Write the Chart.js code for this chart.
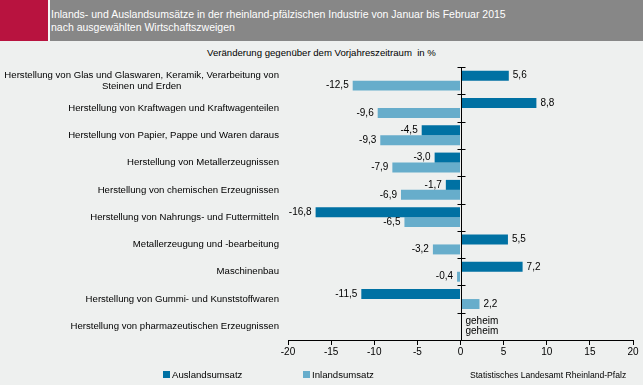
<!DOCTYPE html>
<html>
<head>
<meta charset="utf-8">
<script src="https://cdn.jsdelivr.net/npm/chart.js@4.4.1/dist/chart.umd.min.js"></script>
<style>
  html, body { margin:0; padding:0; background:#eef0ef; }
  #wrap { position:relative; width:643px; height:385px; overflow:hidden; background:#eef0ef; font-family:"Liberation Sans", Arial, sans-serif; }
  #hdrBg { position:absolute; left:0; top:0; width:643px; height:41px; background:#f6f6f6; }
  #hdrRed { position:absolute; left:0; top:0; width:48px; height:41px; background:#b8133f; }
  #hdrGray { position:absolute; left:50px; top:0; width:593px; height:41px; background:#878787; }
  #title { position:absolute; left:51px; top:8px; color:#fff; font-size:10.5px; line-height:12.5px; white-space:nowrap; }
  #subtitle { position:absolute; left:0; width:643px; top:47px; text-align:center; font-size:9.6px; color:#000; white-space:pre; }
  .leg { position:absolute; top:369px; font-size:9.6px; color:#000; white-space:nowrap; line-height:12px; }
  .sw { display:inline-block; width:7px; height:7px; margin-right:2px; vertical-align:0px; }
  #source { position:absolute; left:470px; top:370px; font-size:8.6px; color:#000; white-space:nowrap; }
  canvas { position:absolute; left:0; top:0; }
</style>
</head>
<body>
<div id="wrap">
  <div id="hdrBg"></div>
  <div id="hdrRed"></div>
  <div id="hdrGray"></div>
  <div id="title">Inlands- und Auslandsumsätze in der rheinland-pfälzischen Industrie von Januar bis Februar 2015<br>nach ausgewählten Wirtschaftszweigen</div>
  <div id="subtitle">Veränderung gegenüber dem Vorjahreszeitraum  in %</div>
  <canvas id="c" width="643" height="385"></canvas>
  <div class="leg" style="left:163px;"><span class="sw" style="background:#0071a3"></span>Auslandsumsatz</div>
  <div class="leg" style="left:303px;"><span class="sw" style="background:#67adcb"></span>Inlandsumsatz</div>
  <div id="source">Statistisches Landesamt Rheinland-Pfalz</div>
</div>
<script>
const categories = [
  ["Herstellung von Glas und Glaswaren, Keramik, Verarbeitung von", "Steinen und Erden"],
  "Herstellung von Kraftwagen und Kraftwagenteilen",
  "Herstellung von Papier, Pappe und Waren daraus",
  "Herstellung von Metallerzeugnissen",
  "Herstellung von chemischen Erzeugnissen",
  "Herstellung von Nahrungs- und Futtermitteln",
  "Metallerzeugung und -bearbeitung",
  "Maschinenbau",
  "Herstellung von Gummi- und Kunststoffwaren",
  "Herstellung von pharmazeutischen Erzeugnissen"
];
const auslandsumsatz = [5.6, 8.8, -4.5, -3.0, -1.7, -16.8, 5.5, 7.2, -11.5, null];
const inlandsumsatz = [-12.5, -9.6, -9.3, -7.9, -6.9, -6.5, -3.2, -0.4, 2.2, null];
const seriesNames = ["Auslandsumsatz", "Inlandsumsatz"];
const missingLabel = "geheim";
const xTicks = [-20, -15, -10, -5, 0, 5, 10, 15, 20];

const FONT = '"Liberation Sans", Arial, sans-serif';
const fmt = v => v.toFixed(1).replace('.', ',');

const overlay = {
  id: 'overlay',
  afterDatasetsDraw(chart) {
    const ctx = chart.ctx;
    const xs = chart.scales.x, ys = chart.scales.y;
    const ca = chart.chartArea;
    const x0 = Math.round(xs.getPixelForValue(0)) + 0.5;
    ctx.save();
    ctx.strokeStyle = '#000';
    ctx.lineWidth = 1;
    ctx.beginPath();
    ctx.moveTo(x0, ca.top);
    ctx.lineTo(x0, ca.bottom);
    ctx.stroke();
    for (let i = 0; i < categories.length; i++) {
      const yb = Math.round(ys.getPixelForValue(i - 0.5)) + 0.5;
      ctx.beginPath();
      ctx.moveTo(x0 - 4, yb);
      ctx.lineTo(x0 + 4, yb);
      ctx.stroke();
    }
    ctx.fillStyle = '#000';
    ctx.font = '10px ' + FONT;
    ctx.textBaseline = 'middle';
    chart.data.datasets.forEach((ds, di) => {
      const meta = chart.getDatasetMeta(di);
      meta.data.forEach((el, i) => {
        const v = ds.data[i];
        if (v === null || v === undefined) {
          const yy = ys.getPixelForValue(i) + (di === 0 ? -5 : 5);
          ctx.textAlign = 'left';
          ctx.fillText(missingLabel, x0 + 4, yy);
          return;
        }
        if (v >= 0) {
          ctx.textAlign = 'left';
          ctx.fillText(fmt(v), el.x + 4, el.y);
        } else {
          ctx.textAlign = 'right';
          ctx.fillText(fmt(v), el.x - 4, el.y);
        }
      });
    });
    ctx.font = '9.6px ' + FONT;
    const rx = 279;
    categories.forEach((lab, i) => {
      const yc = ys.getPixelForValue(i);
      if (Array.isArray(lab)) {
        const w = ctx.measureText(lab[0]).width;
        const cx = rx - w / 2;
        const n = lab.length;
        lab.forEach((ln, k) => {
          ctx.textAlign = 'center';
          ctx.fillText(ln, cx, yc + (k - (n - 1) / 2) * 11);
        });
      } else {
        ctx.textAlign = 'right';
        ctx.fillText(lab, rx, yc);
      }
    });
    ctx.restore();
  }
};

new Chart(document.getElementById('c'), {
  type: 'bar',
  data: {
    labels: categories,
    datasets: [
      { label: seriesNames[0], data: auslandsumsatz, backgroundColor: '#0071a3', borderWidth: 0 },
      { label: seriesNames[1], data: inlandsumsatz, backgroundColor: '#67adcb', borderWidth: 0 }
    ]
  },
  options: {
    indexAxis: 'y',
    responsive: false,
    animation: false,
    devicePixelRatio: 1,
    layout: { padding: { left: 288, right: 10, top: 67, bottom: 25 } },
    plugins: { legend: { display: false }, tooltip: { enabled: false }, title: { display: false } },
    datasets: { bar: { categoryPercentage: 0.73, barPercentage: 1 } },
    scales: {
      x: {
        type: 'linear',
        min: -20, max: 20,
        afterBuildTicks: s => { s.ticks = xTicks.map(v => ({ value: v })); },
        afterFit: s => { s.height = 20; },
        grid: { display: true, drawOnChartArea: false, drawTicks: true, tickLength: 5, color: '#000' },
        border: { display: true, color: '#000', width: 1 },
        ticks: { color: '#000', font: { family: FONT, size: 10 }, padding: 1, callback: v => String(v) }
      },
      y: {
        display: false,
        grid: { display: false }
      }
    }
  },
  plugins: [overlay]
});
</script>
</body>
</html>
